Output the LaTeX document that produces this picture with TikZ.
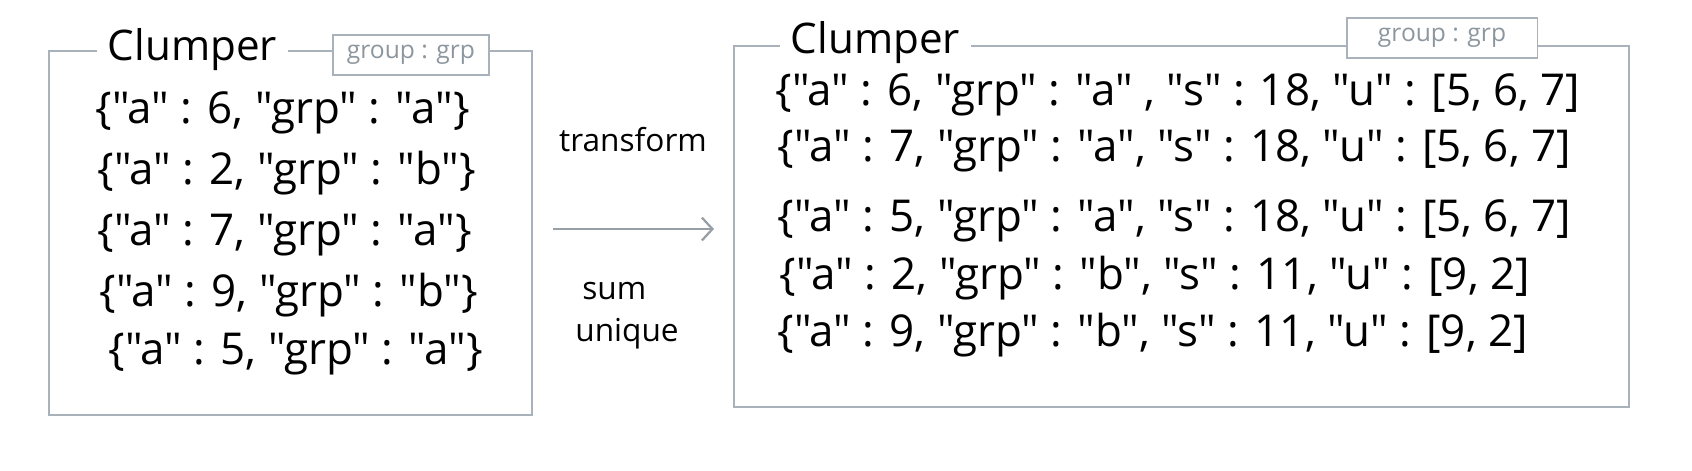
\documentclass[tikz,border=0pt]{standalone}
\usepackage{fontspec}
\setmainfont{Open Sans}[Ligatures=TeXOff]
\usetikzlibrary{positioning, arrows.meta, calc}
\definecolor{framegray}{HTML}{A9B2BA}
\definecolor{taggray}{HTML}{8C969E}

\begin{document}
\begin{tikzpicture}[
    x=0.02cm, y=-0.02cm,
    frame/.style={draw=framegray, line width=1.3pt},
    tag/.style={draw=framegray, line width=1.1pt, text=taggray, font=\fontsize{14}{16}\selectfont, minimum height=0.8cm, inner xsep=8pt},
    title/.style={font=\fontsize{24}{28}\selectfont, inner sep=2pt},
    row/.style={font=\fontsize{25}{30}\selectfont, anchor=west, inner sep=0pt},
    lbl/.style={font=\fontsize{18}{24}\selectfont, align=left},
    arr/.style={-{Straight Barb[length=6pt, width=13pt]}, draw=framegray!90!black, line width=1.3pt}
]
    \useasboundingbox (0,0) rectangle (1692,470);

    % Left clumper box
    \coordinate (lnw) at (49,51);
    \coordinate (lse) at (532,415);
    \node[title, anchor=west] (ltitle) at (104,50) {Clumper};
    \node[tag, minimum width=3.08cm] (ltag) at (411,55) {group : grp};
    \draw[frame] ([xshift=-4pt]ltitle.west |- lnw) -- (lnw) -- (lnw |- lse) -- (lse) -- (lse |- lnw) -- (ltag.east |- lnw);
    \draw[frame] ([xshift=4pt]ltitle.east |- lnw) -- (ltag.west |- lnw);

    \node[row] (lrow1) at (95,113) {\{"a" : 6, "grp" : "a"\}};
    \node[row] (lrow2) at (97,173) {\{"a" : 2, "grp" : "b"\}};
    \node[row] (lrow3) at (97,235) {\{"a" : 7, "grp" : "a"\}};
    \node[row] (lrow4) at (99,295) {\{"a" : 9, "grp" : "b"\}};
    \node[row] (lrow5) at (108,354) {\{"a" : 5, "grp" : "a"\}};

    % Transform arrow
    \coordinate (tail) at (553,229);
    \coordinate (head) at (714,229);
    \draw[arr] (tail) -- (head);
    \node[lbl] (trans) at (633,140) {transform};
    \node[lbl] (agg) at (627,316) {\hspace{4pt}sum\\unique};

    % Right clumper box
    \coordinate (rnw) at (734,46);
    \coordinate (rse) at (1629,407);
    \node[title, anchor=west] (rtitle) at (787,43) {Clumper};
    \node[tag, minimum width=3.82cm] (rtag) at (1442,38) {group : grp};
    \draw[frame] ([xshift=-4pt]rtitle.west |- rnw) -- (rnw) -- (rnw |- rse) -- (rse) -- (rse |- rnw) -- (rtag.east |- rnw);
    \draw[frame] ([xshift=4pt]rtitle.east |- rnw) -- (rtag.west |- rnw);

    \node[row] (rrow1) at (775,95) {\{"a" : 6, "grp" : "a" , "s" : 18, "u" : [5, 6, 7]};
    \node[row] (rrow2) at (777,151) {\{"a" : 7, "grp" : "a", "s" : 18, "u" : [5, 6, 7]};
    \node[row] (rrow3) at (777,221) {\{"a" : 5, "grp" : "a", "s" : 18, "u" : [5, 6, 7]};
    \node[row] (rrow4) at (779,278) {\{"a" : 2, "grp" : "b", "s" : 11, "u" : [9, 2]};
    \node[row] (rrow5) at (777,335) {\{"a" : 9, "grp" : "b", "s" : 11, "u" : [9, 2]};
\end{tikzpicture}
\end{document}
